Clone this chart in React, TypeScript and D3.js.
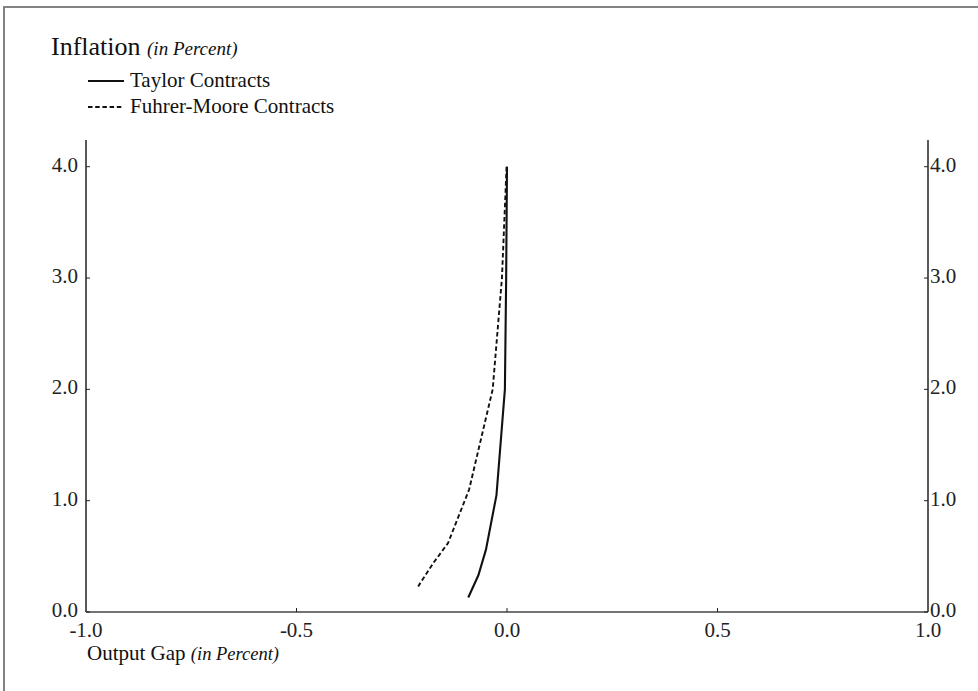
import React from 'react';
import * as d3 from 'd3';

// output gap (x) vs inflation (y)
const taylorGap = [0.0, -0.002, -0.005, -0.025, -0.05, -0.068, -0.092];
const taylorInfl = [4.0, 3.0, 2.0, 1.05, 0.56, 0.33, 0.13];
const fmGap = [-0.001, -0.012, -0.034, -0.09, -0.14, -0.175, -0.211];
const fmInfl = [4.0, 3.0, 2.0, 1.1, 0.62, 0.44, 0.23];

const xTicks = [-1.0, -0.5, 0.0, 0.5, 1.0];
const yTicks = [0, 1, 2, 3, 4];

const legendItems = [
  { label: 'Taylor Contracts', dash: null },
  { label: 'Fuhrer-Moore Contracts', dash: '4.5,2.7' },
];

const W = 978;
const H = 691;
const left = 86, right = 928, top = 140, bottom = 612;
const font = '"Liberation Serif", "Times New Roman", serif';
const axisColor = '#222';

const App = () => {
  const x = d3.scaleLinear().domain([-1, 1]).range([left, right]);
  const y = d3.scaleLinear().domain([0, 4.24]).range([bottom, top]);

  const line = d3.line<[number, number]>()
    .x(d => x(d[0]))
    .y(d => y(d[1]));

  const taylor = taylorGap.map((g, i) => [g, taylorInfl[i]] as [number, number]);
  const fm = fmGap.map((g, i) => [g, fmInfl[i]] as [number, number]);

  return (
    <svg width={W} height={H} style={{ position: 'absolute', left: 0, top: 0, background: '#fff' }}
      fontFamily={font}>
      {/* frame: only left and top edges are in view */}
      <rect x={4} y={7} width={W + 20} height={H + 20} fill="none" stroke="#777" strokeWidth={1.8} />

      {/* title */}
      <text x={51} y={55} fontSize={26} fill="#111">
        Inflation <tspan fontStyle="italic" fontSize={19}>(in Percent)</tspan>
      </text>

      {/* legend */}
      {legendItems.map((it, i) => (
        <g key={it.label}>
          <line x1={88} x2={124} y1={81 + i * 26} y2={81 + i * 26}
            stroke="#111" strokeWidth={1.8} strokeDasharray={it.dash || undefined} />
          <text x={130} y={87 + i * 26} fontSize={21} fill="#111">{it.label}</text>
        </g>
      ))}

      {/* axes */}
      <line x1={left} x2={left} y1={top} y2={bottom} stroke={axisColor} strokeWidth={1.5} />
      <line x1={right} x2={right} y1={top} y2={bottom} stroke={axisColor} strokeWidth={1.5} />
      <line x1={left} x2={right} y1={bottom} y2={bottom} stroke="#444" strokeWidth={1.6} />

      {yTicks.map(t => (
        <g key={'y' + t}>
          <line x1={left} x2={left + 4} y1={y(t)} y2={y(t)} stroke={axisColor} strokeWidth={1} />
          <line x1={right - 4} x2={right} y1={y(t)} y2={y(t)} stroke={axisColor} strokeWidth={1} />
          <text x={78} y={y(t) - 2} fontSize={21} textAnchor="end" dominantBaseline="central" fill="#222">
            {t.toFixed(1)}
          </text>
          <text x={930} y={y(t) - 2} fontSize={21} dominantBaseline="central" fill="#222">
            {t.toFixed(1)}
          </text>
        </g>
      ))}

      {xTicks.map(t => (
        <g key={'x' + t}>
          {Math.abs(t) < 1 && (
            <line x1={x(t)} x2={x(t)} y1={bottom} y2={bottom - 4} stroke={axisColor} strokeWidth={1} />
          )}
          <text x={x(t)} y={637} fontSize={21} textAnchor="middle" fill="#222">{t.toFixed(1)}</text>
        </g>
      ))}

      <text x={87} y={660} fontSize={21} fill="#111">
        Output Gap <tspan fontStyle="italic" fontSize={18.5}>(in Percent)</tspan>
      </text>

      {/* series */}
      <path d={line(fm) || ''} fill="none" stroke="#111" strokeWidth={1.9} strokeDasharray="4.5,2.7" />
      <path d={line(taylor) || ''} fill="none" stroke="#111" strokeWidth={2.1} />
    </svg>
  );
};

export default App;
